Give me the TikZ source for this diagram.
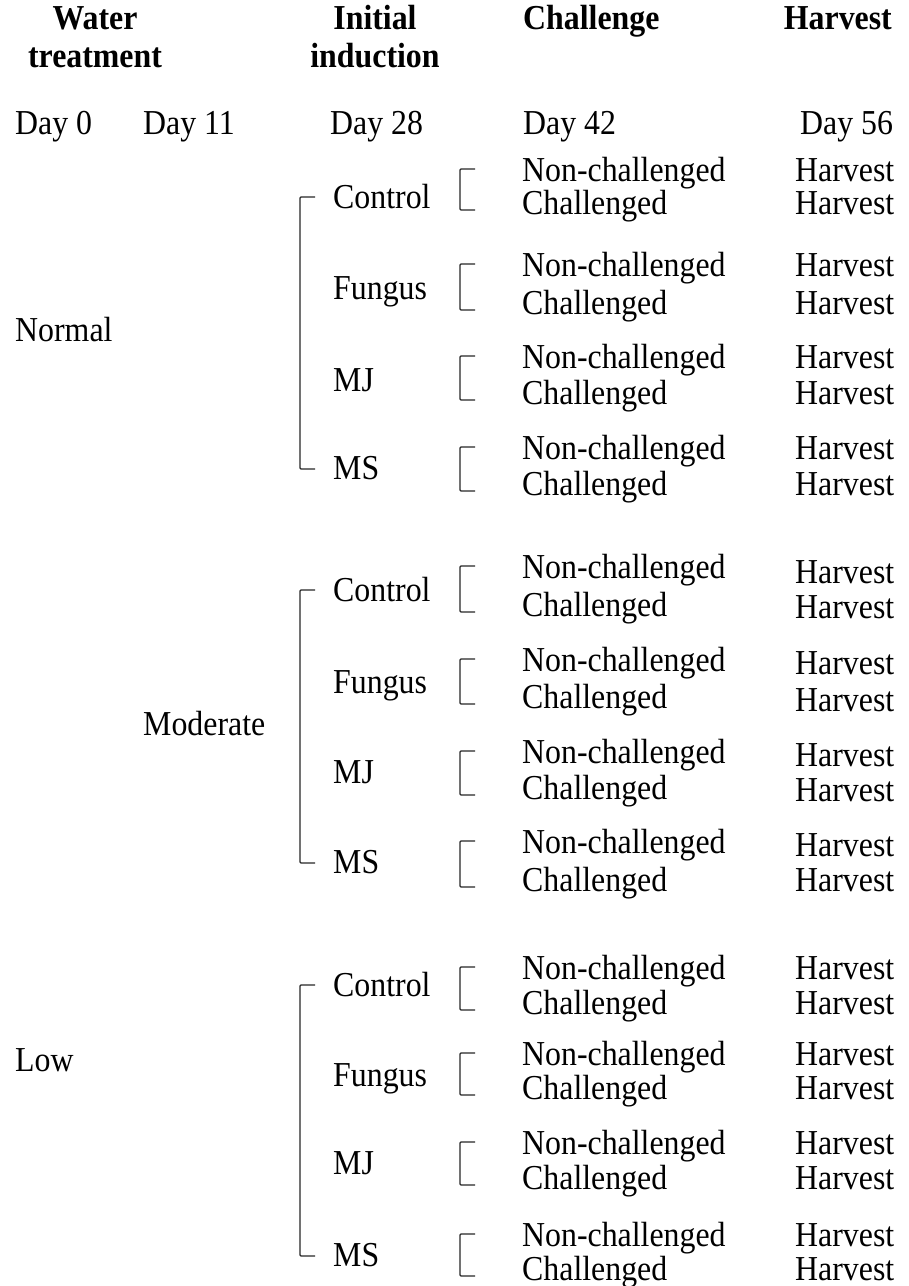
\documentclass[tikz,border=0pt]{standalone}
\usepackage{fontspec}
\setmainfont[FakeStretch=0.91]{Liberation Serif}
\usetikzlibrary{calc}
\begin{document}
\begin{tikzpicture}[x=1pt,y=-1pt,
  lbl/.style={inner sep=0pt, anchor=west, text height=23pt, text depth=0pt, font=\fontsize{35}{40}\selectfont},
  hdr/.style={inner sep=0pt, anchor=base, font=\bfseries\fontsize{35}{40}\selectfont},
  brk/.style={line width=1.3pt, black!85, rounded corners=1pt}]
\useasboundingbox (0,0) rectangle (909,1286);
% headers
\node[hdr] (hw1) at (95,29) {Water};
\node[hdr] (hw2) at (95,67) {treatment};
\node[hdr] (hi1) at (375,29) {Initial};
\node[hdr] (hi2) at (375,67) {induction};
\node[hdr, anchor=base west] (hc) at (523,29) {Challenge};
\node[hdr, anchor=base east] (hh) at (892,29) {Harvest};
% days
\node[lbl] (d0) at (15,123) {Day 0};
\node[lbl] (d11) at (143,123) {Day 11};
\node[lbl] (d28) at (330,123) {Day 28};
\node[lbl] (d42) at (523,123) {Day 42};
\node[lbl] (d56) at (800,123) {Day 56};
% water levels
\node[lbl] (wn) at (15,330) {Normal};
\node[lbl] (wm) at (143,724) {Moderate};
\node[lbl] (wl) at (15,1060) {Low};
% groups
\foreach \g/\i/\name/\iy/\ny/\cy/\hny/\hcy in {
1/1/Control/197/170/203/170/203,
1/2/Fungus/288/265/303/265/303,
1/3/MJ/380/357/393/357/393,
1/4/MS/468/448/484/448/484,
2/1/Control/590/567/605/572/607,
2/2/Fungus/682/660/697/663/700,
2/3/MJ/772/752/788/755/790,
2/4/MS/862/842/880/845/880,
3/1/Control/985/968/1003/968/1003,
3/2/Fungus/1075/1054/1088/1054/1088,
3/3/MJ/1163/1143/1178/1143/1178,
3/4/MS/1255/1235/1269/1235/1269}
{
 \node[lbl] (ind\g\i) at (333,\iy) {\name};
 \node[lbl] (nc\g\i) at (522,\ny) {Non-challenged};
 \node[lbl] (ch\g\i) at (522,\cy) {Challenged};
 \node[lbl] (hn\g\i) at (795,\hny) {Harvest};
 \node[lbl] (hc\g\i) at (795,\hcy) {Harvest};
 \draw[brk] ([shift={(-47,-1)}]nc\g\i.west) -- ++(-15,0) |- ([shift={(-47,7)}]ch\g\i.west);
}
\foreach \g in {1,2,3}
 \draw[brk] ([shift={(-18,0)}]ind\g1.west) -- ++(-15,0) |- ([shift={(-18,1)}]ind\g4.west);
\end{tikzpicture}
\end{document}
